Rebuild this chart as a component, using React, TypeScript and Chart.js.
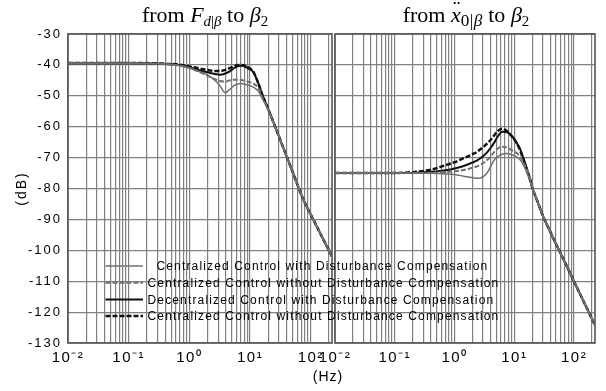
import React, { useEffect, useRef } from 'react';
import { Chart, registerables } from 'chart.js';

Chart.register(...registerables);

// ---------- data ----------
// Left panel: from F_{d|β} to β2  (frequency in Hz, magnitude in dB)
const leftFreq = [0.01, 0.1, 0.3, 0.5, 0.8, 1.0, 1.5, 2.2, 2.7, 3.2, 3.9, 4.7, 5.5, 6.4, 7.3, 8.3, 9.5, 11.3, 13.7, 16, 18.9, 25, 35.6, 50, 76, 100, 150, 224];
const leftCentralWithDC = [-39.5, -39.5, -39.6, -39.9, -40.5, -41.0, -42.2, -43.8, -45.2, -46.8, -49.0, -47.8, -46.6, -46.1, -46.0, -46.3, -46.6, -47.2, -48.5, -51.0, -53.6, -59.2, -67.0, -74.5, -83.7, -88.4, -95.3, -102.0];
const leftCentralNoDCGray = [-39.5, -39.5, -39.6, -39.9, -40.5, -41.0, -42.4, -43.9, -44.7, -45.2, -45.4, -45.0, -44.8, -44.8, -44.9, -45.2, -45.5, -46.0, -47.5, -50.6, -53.5, -59.2, -67.0, -74.5, -83.7, -88.4, -95.3, -102.0];
const leftDecentralWithDC = [-39.5, -39.5, -39.6, -39.8, -40.3, -40.8, -41.8, -42.6, -43.0, -43.2, -42.8, -42.0, -41.0, -40.4, -40.3, -40.6, -41.2, -42.3, -46.0, -49.8, -53.2, -59.2, -67.0, -74.5, -83.7, -88.4, -95.3, -102.0];
const leftCentralNoDCBlack = [-39.4, -39.4, -39.5, -39.7, -40.1, -40.5, -41.2, -41.8, -42.0, -42.0, -41.6, -41.0, -40.4, -40.0, -40.0, -40.3, -40.9, -42.2, -46.0, -49.8, -53.2, -59.2, -67.0, -74.5, -83.7, -88.4, -95.3, -102.0];

// Right panel: from x''_{0|β} to β2
const rightFreq = [0.01, 0.1, 0.2, 0.4, 0.75, 1.0, 1.42, 2.0, 2.4, 2.71, 3.1, 3.5, 4.0, 4.53, 5.16, 6.26, 7.6, 8.63, 11.2, 12.7, 14.4, 16.4, 18.7, 20, 25, 30, 40, 50, 70, 100, 150, 224];
const rightCentralWithDC = [-75, -75, -75, -75.05, -75.3, -75.5, -76.0, -76.5, -76.7, -76.6, -76.0, -75.0, -73.0, -71.0, -69.8, -68.9, -68.7, -68.9, -69.9, -70.9, -72.6, -75.1, -78.0, -79.7, -84.7, -88.8, -94.0, -98.0, -103.8, -110.1, -117.2, -124.2];
const rightCentralNoDCGray = [-75, -75, -75, -74.9, -74.6, -74.4, -74.0, -73.3, -72.8, -72.3, -71.6, -70.8, -69.7, -68.4, -67.2, -66.5, -66.8, -67.4, -68.7, -69.9, -71.8, -74.0, -77.0, -79.7, -84.7, -88.8, -94.0, -98.0, -103.8, -110.1, -117.2, -124.2];
const rightDecentralWithDC = [-75, -75, -74.95, -74.6, -74.0, -73.5, -72.7, -71.6, -70.9, -70.2, -69.3, -68.3, -66.9, -65.4, -63.5, -61.6, -61.8, -62.5, -65.5, -67.5, -70.5, -73.8, -77.3, -79.7, -84.7, -88.8, -94.0, -98.0, -103.8, -110.1, -117.2, -124.2];
const rightCentralNoDCBlack = [-75, -75, -74.7, -73.9, -72.3, -71.5, -70.2, -68.9, -68.1, -67.3, -66.4, -65.5, -64.3, -63.0, -61.6, -60.7, -61.5, -62.6, -65.6, -68.0, -71.0, -74.3, -77.8, -79.7, -84.7, -88.8, -94.0, -98.0, -103.8, -110.1, -117.2, -124.2];

const seriesLabels = [
  '  Centralized Control with Disturbance Compensation',
  'Centralized Control without Disturbance Compensation',
  'Decentralized Control with Disturbance Compensation',
  'Centralized Control without Disturbance Compensation',
];

// grid / tick values of the log frequency axis
const xGridTicks = [
  0.01, 0.02, 0.03, 0.04, 0.05, 0.06, 0.07, 0.08, 0.09,
  0.1, 0.2, 0.3, 0.4, 0.5, 0.6, 0.7, 0.8, 0.9,
  1, 2, 3, 4, 5, 6, 7, 8, 9,
  10, 20, 30, 40, 50, 60, 70, 80, 90,
  100, 200,
];
const xTickLabels: Record<string, string> = {
  '0.01': '10⁻²',
  '0.1': '10⁻¹',
  '1': '10⁰',
  '10': '10¹',
  '100': '10²',
};
const xMin = 0.01;
const xMax = 224;
const yMin = -130;
const yMax = -30;
const yStep = 10;

// ---------- styles ----------
const seriesColors = ['#707070', '#707070', '#111111', '#111111'];
const seriesWidths = [1.5, 2, 2, 2.5];
const seriesDashes: number[][] = [[], [5, 2], [], [5, 2]];
const GRID = '#808080';
const FRAME = '#555555';
const SANS = '"Liberation Sans", Arial, sans-serif';
const SERIF = '"Liberation Serif", "Times New Roman", serif';

const framePlugin = {
  id: 'panelFrame',
  beforeDraw(chart: any) {
    chart.ctx.letterSpacing = '2px';
  },
  afterDatasetsDraw(chart: any) {
    const { ctx, chartArea } = chart;
    ctx.save();
    ctx.strokeStyle = FRAME;
    ctx.lineWidth = 1.6;
    ctx.strokeRect(chartArea.left, chartArea.top, chartArea.right - chartArea.left, chartArea.bottom - chartArea.top);
    ctx.restore();
    ctx.letterSpacing = '1.5px';
  },
};

const legendPlugin = {
  id: 'panelLegend',
  afterDraw(chart: any, _args: any, opts: any) {
    if (!opts || !opts.display) return;
    const ctx = chart.ctx;
    ctx.save();
    ctx.font = opts.font;
    ctx.letterSpacing = opts.letterSpacing;
    ctx.textBaseline = 'middle';
    ctx.textAlign = 'left';
    ctx.fillStyle = opts.color;
    chart.data.datasets.forEach((ds: any, i: number) => {
      const y = opts.y + i * opts.rowHeight;
      ctx.save();
      ctx.strokeStyle = ds.borderColor;
      ctx.lineWidth = ds.borderWidth;
      ctx.setLineDash(ds.borderDash || []);
      ctx.beginPath();
      ctx.moveTo(opts.x, y);
      ctx.lineTo(opts.x + opts.sampleWidth, y);
      ctx.stroke();
      ctx.restore();
      ctx.fillText(ds.label, opts.x + opts.sampleWidth + opts.gap, y + 1);
    });
    ctx.restore();
  },
};

function makeConfig(side: 'left' | 'right', freq: number[], series: number[][]): any {
  const isLeft = side === 'left';
  return {
    type: 'line',
    data: {
      datasets: series.map((vals, i) => ({
        label: seriesLabels[i],
        data: freq.map((f, j) => ({ x: f, y: vals[j] })),
        borderColor: seriesColors[i],
        borderWidth: seriesWidths[i],
        borderDash: seriesDashes[i],
        pointRadius: 0,
        fill: false,
        cubicInterpolationMode: 'monotone',
      })),
    },
    plugins: [framePlugin, legendPlugin],
    options: {
      animation: false,
      responsive: false,
      devicePixelRatio: 1,
      events: [],
      layout: {
        padding: isLeft ? { left: 0, top: 34, right: 274, bottom: 0 } : { left: 335, top: 34, right: 11, bottom: 0 },
      },
      plugins: {
        legend: { display: false },
        tooltip: { enabled: false },
        panelLegend: {
          display: isLeft,
          x: 105.5,
          y: 266,
          rowHeight: 16.7,
          sampleWidth: 37.5,
          gap: 4.5,
          font: '12px ' + SANS,
          letterSpacing: '1.15px',
          color: '#000',
        },
      },
      scales: {
        x: {
          type: 'logarithmic',
          min: xMin,
          max: xMax,
          afterBuildTicks: (scale: any) => {
            scale.ticks = xGridTicks.map((v) => ({ value: v }));
          },
          afterFit: (scale: any) => {
            scale.height = 48;
          },
          ticks: {
            autoSkip: false,
            maxRotation: 0,
            minRotation: 0,
            padding: 6,
            z: 1,
            color: '#000',
            font: { family: SANS, size: 15 },
            callback: (v: number) => xTickLabels[String(v)] ?? '',
          },
          grid: { color: GRID, lineWidth: 1.2, drawTicks: false },
          border: { display: false },
        },
        y: {
          type: 'linear',
          min: yMin,
          max: yMax,
          afterFit: (scale: any) => {
            scale.width = isLeft ? 68 : 0;
          },
          ticks: {
            display: isLeft,
            stepSize: yStep,
            padding: 6,
            color: '#000',
            font: { family: SANS, size: 13 },
            callback: (v: number) => String(v),
          },
          grid: { color: GRID, lineWidth: 1.2, drawTicks: false },
          border: { display: false },
          title: {
            display: isLeft,
            text: '(dB)',
            color: '#000',
            font: { family: SANS, size: 14 },
            padding: { top: 14, bottom: 0 },
          },
        },
      },
    },
  };
}

export default function App() {
  const leftRef = useRef<HTMLCanvasElement>(null);
  const rightRef = useRef<HTMLCanvasElement>(null);

  useEffect(() => {
    const right = new Chart(
      rightRef.current as HTMLCanvasElement,
      makeConfig('right', rightFreq, [rightCentralWithDC, rightCentralNoDCGray, rightDecentralWithDC, rightCentralNoDCBlack])
    );
    const left = new Chart(
      leftRef.current as HTMLCanvasElement,
      makeConfig('left', leftFreq, [leftCentralWithDC, leftCentralNoDCGray, leftDecentralWithDC, leftCentralNoDCBlack])
    );
    return () => {
      left.destroy();
      right.destroy();
    };
  }, []);

  const subL: React.CSSProperties = { fontSize: '0.68em', verticalAlign: '-0.3em' };
  const subR: React.CSSProperties = { fontSize: '0.78em', verticalAlign: '-0.25em', letterSpacing: '0.5px' };
  const titleBase: React.CSSProperties = {
    position: 'absolute',
    top: 2,
    zIndex: 2,
    transform: 'translateX(-50%)',
    whiteSpace: 'nowrap',
    font: '22px ' + SERIF,
    color: '#000',
    lineHeight: '26px',
  };

  return (
    <div style={{ position: 'absolute', left: 0, top: 0, width: 606, height: 391, background: '#fff', overflow: 'hidden' }}>
      <canvas ref={rightRef} width={606} height={391} style={{ position: 'absolute', left: 0, top: 0 }} />
      <canvas ref={leftRef} width={606} height={391} style={{ position: 'absolute', left: 0, top: 0 }} />
      <div style={{ ...titleBase, left: 205 }}>
        from <i>F</i>
        <span style={subL}>
          <i>d</i>|<i>β</i>
        </span>{' '}
        to <i>β</i>
        <span style={subL}>2</span>
      </div>
      <div style={{ ...titleBase, left: 466 }}>
        from{' '}
        <span style={{ position: 'relative', display: 'inline-block' }}>
          <i>x</i>
          <span style={{ position: 'absolute', left: 2, top: -7 }}>¨</span>
        </span>
        <span style={subR}>
          0|<i>β</i>
        </span>{' '}
        to <i>β</i>
        <span style={subL}>2</span>
      </div>
      <div
        style={{
          position: 'absolute',
          left: 328,
          top: 368,
          transform: 'translateX(-50%)',
          font: '14px ' + SANS,
          letterSpacing: '1px',
          color: '#000',
          whiteSpace: 'nowrap',
        }}
      >
        (Hz)
      </div>
    </div>
  );
}
